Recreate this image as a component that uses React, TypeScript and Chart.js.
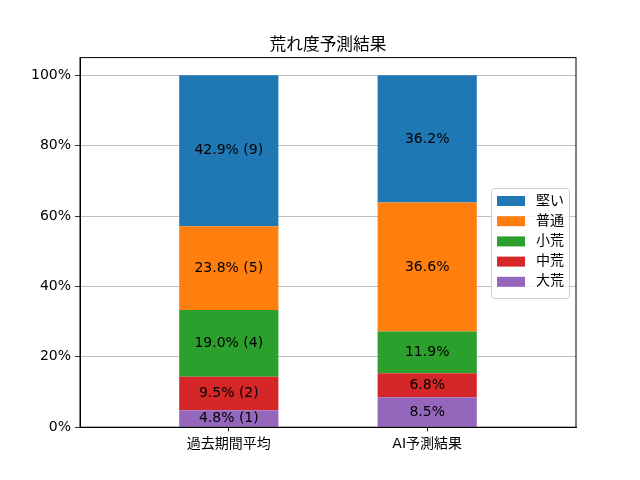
import { Chart, registerables } from "chart.js";
import React, { useEffect, useRef } from "react";

Chart.register(...registerables);

// data
const categories = ["過去期間平均", "AI予測結果"];
const seriesNames = ["大荒", "中荒", "小荒", "普通", "堅い"]; // bottom -> top
const seriesColors = ["#9467bd", "#d62728", "#2ca02c", "#ff7f0e", "#1f77b4"];
const pastValues = [4.8, 9.5, 19.0, 23.8, 42.9];
const pastCounts = [1, 2, 4, 5, 9];
const aiValues = [8.5, 6.8, 11.9, 36.6, 36.2];
const yTicks = [0, 20, 40, 60, 80, 100];
const chartTitle = "荒れ度予測結果";

const FONT = "'DejaVu Sans', 'Noto Sans CJK JP', sans-serif";

const App: React.FC = () => {
  const canvasRef = useRef<HTMLCanvasElement | null>(null);
  const chartRef = useRef<Chart | null>(null);

  useEffect(() => {
    document.body.style.margin = "0";
    if (chartRef.current) chartRef.current.destroy();
    if (!canvasRef.current) return;

    const datasets = seriesNames.map((name, i) => ({
      label: name,
      data: [
        { x: 0, y: pastValues[i] },
        { x: 1, y: aiValues[i] },
      ],
      backgroundColor: seriesColors[i],
      borderWidth: 0,
      barPercentage: 0.5,
      categoryPercentage: 1,
    }));

    // labels inside each bar segment
    const barLabels = {
      id: "barLabels",
      afterDatasetsDraw(chart: any) {
        const ctx = chart.ctx;
        ctx.save();
        ctx.font = `14px ${FONT}`;
        ctx.fillStyle = "#000";
        ctx.textAlign = "center";
        ctx.textBaseline = "middle";
        chart.data.datasets.forEach((_: any, i: number) => {
          const meta = chart.getDatasetMeta(i);
          meta.data.forEach((bar: any, j: number) => {
            const text =
              j === 0
                ? `${pastValues[i].toFixed(1)}% (${pastCounts[i]})`
                : `${aiValues[i].toFixed(1)}%`;
            const { x, y, base } = bar.getProps(["x", "y", "base"], true);
            ctx.fillText(text, x, (y + base) / 2);
          });
        });
        ctx.restore();
      },
    };

    // title, frame and legend in matplotlib style
    const decorations = {
      id: "decorations",
      afterDraw(chart: any) {
        const ctx = chart.ctx;
        const a = chart.chartArea;
        ctx.save();
        ctx.strokeStyle = "#000";
        ctx.lineWidth = 1;
        ctx.strokeRect(a.left, a.top, a.right - a.left, a.bottom - a.top);

        ctx.fillStyle = "#000";
        ctx.font = `16.7px ${FONT}`;
        ctx.textAlign = "center";
        ctx.textBaseline = "alphabetic";
        ctx.fillText(chartTitle, (a.left + a.right) / 2, a.top - 8);

        // legend, top series first
        const lx = 491;
        const ly = 188;
        const lw = 78;
        const lh = 110;
        ctx.beginPath();
        ctx.roundRect(lx + 0.5, ly + 0.5, lw, lh, 3);
        ctx.fillStyle = "rgba(255,255,255,0.8)";
        ctx.fill();
        ctx.strokeStyle = "#cccccc";
        ctx.stroke();
        ctx.font = `14px ${FONT}`;
        ctx.textAlign = "left";
        ctx.textBaseline = "middle";
        const order = [...seriesNames.keys()].reverse();
        order.forEach((i, k) => {
          const cy = ly + 13 + k * 20.2;
          ctx.fillStyle = seriesColors[i];
          ctx.fillRect(lx + 6, cy - 5, 28, 10);
          ctx.fillStyle = "#000";
          ctx.fillText(seriesNames[i], lx + 45, cy);
        });
        ctx.restore();
      },
    };

    chartRef.current = new Chart(canvasRef.current, {
      type: "bar",
      data: { datasets } as any,
      options: {
        animation: false,
        responsive: false,
        maintainAspectRatio: false,
        layout: { padding: { top: 57.6, right: 64, left: 0, bottom: 0 } },
        plugins: {
          legend: { display: false },
          title: { display: false },
          tooltip: { enabled: false },
        },
        scales: {
          x: {
            type: "linear",
            stacked: true,
            offset: false,
            min: -0.75,
            max: 1.75,
            afterBuildTicks: (scale: any) => {
              scale.ticks = categories.map((_, i) => ({ value: i }));
            },
            afterFit: (scale: any) => {
              scale.height = 52.8;
            },
            ticks: {
              callback: (v: any) => categories[v as number],
              color: "#000",
              font: { family: FONT, size: 14 },
              padding: 5,
              maxRotation: 0,
            },
            grid: {
              offset: false,
              drawOnChartArea: false,
              drawTicks: true,
              tickLength: 4,
              tickColor: "#000",
            },
            border: { color: "#000" },
          },
          y: {
            stacked: true,
            min: 0,
            max: 105,
            afterBuildTicks: (scale: any) => {
              scale.ticks = yTicks.map((v) => ({ value: v }));
            },
            afterFit: (scale: any) => {
              scale.width = 80;
            },
            ticks: {
              callback: (v: any) => `${v}%`,
              color: "#000",
              font: { family: FONT, size: 14 },
              padding: 4,
            },
            grid: {
              color: "#b0b0b0",
              lineWidth: 0.8,
              tickLength: 5,
              tickColor: "#000",
            },
            border: { color: "#000" },
          },
        },
      } as any,
      plugins: [barLabels, decorations],
    });

    return () => {
      if (chartRef.current) {
        chartRef.current.destroy();
        chartRef.current = null;
      }
    };
  }, []);

  return (
    <div style={{ position: "absolute", left: 0, top: 0, width: 640, height: 480, background: "#fff" }}>
      <canvas ref={canvasRef} width={640} height={480} style={{ width: 640, height: 480 }} />
    </div>
  );
};

export default App;
